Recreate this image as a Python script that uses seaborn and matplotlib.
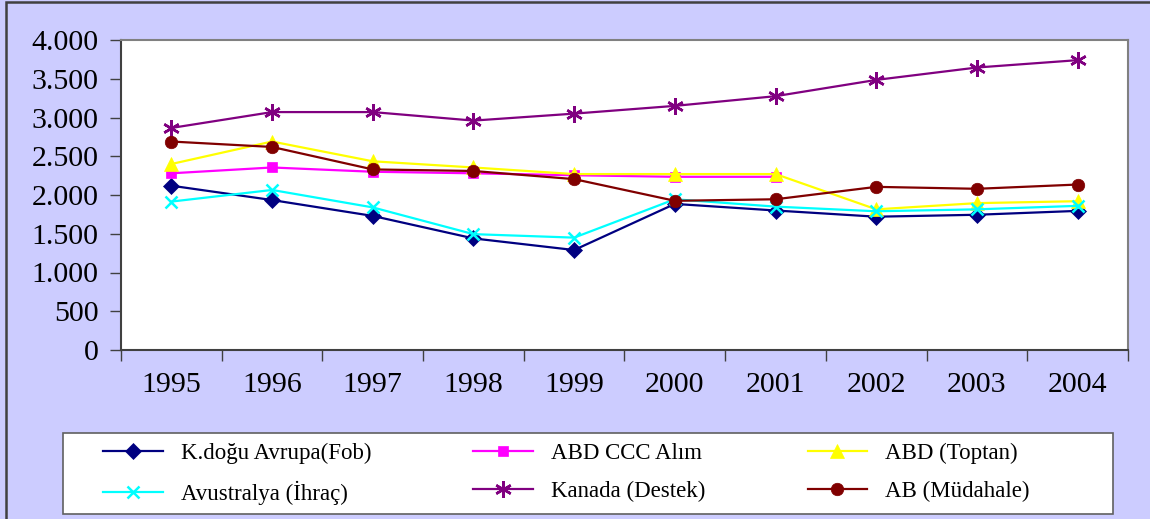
import numpy as np
import pandas as pd
import seaborn as sns
import matplotlib.pyplot as plt
from matplotlib.patches import Rectangle
from matplotlib.ticker import FuncFormatter

years = [1995, 1996, 1997, 1998, 1999, 2000, 2001, 2002, 2003, 2004]

kdogu = [2120, 1935, 1730, 1440, 1290, 1885, 1800, 1720, 1745, 1795]
abd_ccc = [2280, 2355, 2300, 2280, 2255, 2235, 2235]  # no data after 2001
abd_toptan = [2400, 2690, 2435, 2355, 2270, 2270, 2270, 1815, 1895, 1920]
avustralya = [1915, 2065, 1840, 1495, 1450, 1945, 1850, 1790, 1815, 1860]
kanada = [2865, 3070, 3070, 2960, 3050, 3150, 3275, 3485, 3645, 3740]
ab = [2690, 2620, 2330, 2310, 2205, 1925, 1945, 2105, 2080, 2135]

names = ["K.doğu Avrupa(Fob)", "ABD CCC Alım", "ABD (Toptan)",
         "Avustralya (İhraç)", "Kanada (Destek)", "AB (Müdahale)"]
series = [kdogu, abd_ccc, abd_toptan, avustralya, kanada, ab]
colors = ["#000080", "#FF00FF", "#FFFF00", "#00FFFF", "#800080", "#800000"]
markers = ["D", "s", "^", "x", (6, 2, 0), "o"]
msizes = [8, 7.5, 9.5, 9, 12, 9]

plt.rcParams["font.family"] = ["Liberation Serif", "DejaVu Serif"]

fig = plt.figure(figsize=(11.5, 5.19), dpi=100)
fig.patch.set_facecolor("#CCCCFF")
# outer chart border (only left and top edges fall inside the image)
fig.patches.append(Rectangle((6 / 1150, -0.2), 1.5, 1.2 - 2 / 519,
                             transform=fig.transFigure, fill=False,
                             edgecolor="#404040", linewidth=1.8))

ax = fig.add_axes([121 / 1150, 1 - 350 / 519, (1128 - 121) / 1150, 310 / 519])
ax.set_facecolor("white")

for name, vals, c, m, ms in zip(names, series, colors, markers, msizes):
    df = pd.DataFrame({"year": years[:len(vals)], "value": vals})
    thin = m in ("x", (6, 2, 0))
    sns.lineplot(data=df, x="year", y="value", ax=ax, color=c, marker=m,
                 markersize=ms, markeredgecolor=c,
                 markeredgewidth=1.8 if thin else 0.5,
                 linewidth=1.6, label=name)

if ax.get_legend() is not None:
    ax.get_legend().remove()

ax.set_xlim(1994.5, 2004.5)
ax.set_ylim(0, 4000)
ax.set_xlabel("")
ax.set_ylabel("")
ax.set_yticks(np.arange(0, 4001, 500))
ax.yaxis.set_major_formatter(FuncFormatter(lambda v, p: f"{int(v):,}".replace(",", ".")))
ax.set_xticks(years)
ax.set_xticks(np.arange(1994.5, 2005, 1), minor=True)
ax.tick_params(axis="x", which="major", length=0, pad=16, labelsize=21.5)
ax.tick_params(axis="x", which="minor", length=8, width=1, color="#404040", direction="out")
ax.tick_params(axis="y", length=8, width=1, color="#404040", pad=8, labelsize=21.5, direction="out")
for s in ["left", "bottom"]:
    ax.spines[s].set_color("#404040")
    ax.spines[s].set_linewidth(1.5)
for s in ["top", "right"]:
    ax.spines[s].set_color("#808080")
    ax.spines[s].set_linewidth(1.5)

# legend box
fig.patches.append(Rectangle((63 / 1150, 1 - 514 / 519), 1050 / 1150, 81 / 519,
                             transform=fig.transFigure, facecolor="white",
                             edgecolor="#606060", linewidth=1.2))
handles, labels = ax.get_legend_handles_labels()
order = [0, 3, 1, 4, 2, 5]  # fill legend row by row
fig.legend([handles[i] for i in order], [labels[i] for i in order], ncol=3,
           loc="center left",
           bbox_to_anchor=(103 / 1150, 1 - 474 / 519, (1030 - 103) / 1150, 0),
           mode="expand", frameon=False, fontsize=16.5, handlelength=2.6,
           handletextpad=0.8, labelspacing=0.72, borderpad=0, borderaxespad=0)

fig.savefig("out.png", dpi=100, facecolor=fig.get_facecolor())
